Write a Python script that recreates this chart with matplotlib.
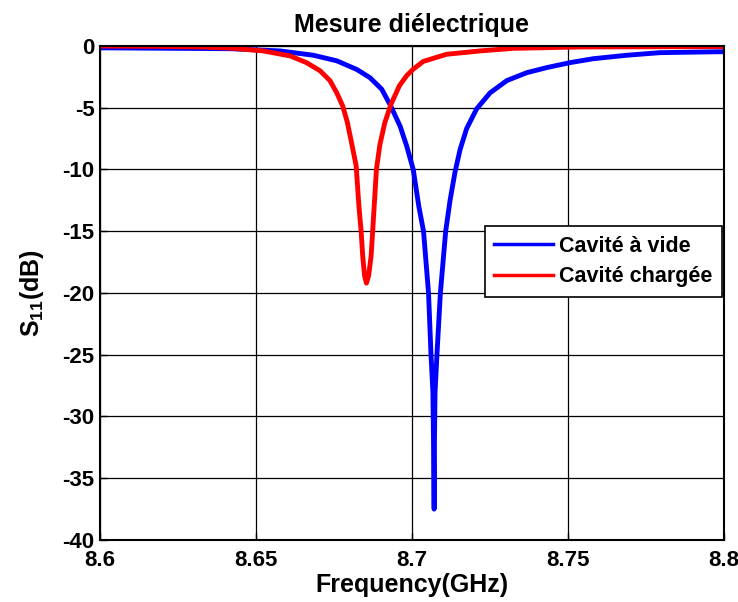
import matplotlib
matplotlib.use('Agg')
import matplotlib.pyplot as plt

# police type MATLAB (Arial gras)
plt.rcParams['font.family'] = ['Liberation Sans', 'DejaVu Sans']
plt.rcParams['font.weight'] = 'bold'
plt.rcParams['axes.unicode_minus'] = False
plt.rcParams['mathtext.fontset'] = 'custom'
plt.rcParams['mathtext.rm'] = 'Liberation Sans:bold'
plt.rcParams['mathtext.bf'] = 'Liberation Sans:bold'
plt.rcParams['mathtext.default'] = 'bf'

# cavité à vide (bleu)
freq_vide = [8.6000, 8.6192, 8.6417, 8.6577, 8.6684, 8.6759, 8.6823, 8.6865, 8.6903,
             8.6932, 8.6962, 8.6983, 8.7004, 8.7022, 8.7037, 8.7053, 8.7061, 8.7067,
             8.7069, 8.7071, 8.7072, 8.7074, 8.7080, 8.7091, 8.7108, 8.7122, 8.7138,
             8.7154, 8.7175, 8.7207, 8.7250, 8.7304, 8.7368, 8.7432, 8.7506, 8.7581,
             8.7688, 8.7795, 8.8000]
s11_vide = [-0.15, -0.18, -0.22, -0.40, -0.75, -1.2, -1.9, -2.56, -3.5,
            -4.86, -6.5, -8.1, -10.0, -13.0, -15.0, -20.0, -25.0, -28.0,
            -32.0, -37.5, -32.0, -28.0, -25.0, -20.0, -15.0, -12.5, -10.2,
            -8.4, -6.7, -5.1, -3.8, -2.8, -2.16, -1.75, -1.35, -1.03,
            -0.75, -0.54, -0.46]

# cavité chargée (rouge)
freq_charge = [8.6000, 8.6192, 8.6321, 8.6417, 8.6523, 8.6609, 8.6662, 8.6705, 8.6737,
               8.6759, 8.6778, 8.6793, 8.6806, 8.6821, 8.6830, 8.6837, 8.6842, 8.6848,
               8.6854, 8.6861, 8.6869, 8.6874, 8.6880, 8.6886, 8.6897, 8.6913, 8.6933,
               8.6960, 8.6983, 8.7003, 8.7036, 8.7111, 8.7218, 8.7325, 8.7538, 8.8000]
s11_charge = [0.0, -0.03, -0.08, -0.17, -0.4, -0.8, -1.35, -2.0, -2.8,
              -3.8, -4.86, -6.2, -7.8, -9.7, -13.0, -15.0, -17.0, -18.6,
              -19.2, -18.6, -17.0, -15.0, -12.5, -10.0, -8.0, -6.2, -4.7,
              -3.2, -2.4, -1.9, -1.25, -0.67, -0.4, -0.19, -0.08, -0.05]

xticks = [8.6, 8.65, 8.7, 8.75, 8.8]
xlabels = ['8.6', '8.65', '8.7', '8.75', '8.8']
yticks = [0, -5, -10, -15, -20, -25, -30, -35, -40]

fig = plt.figure(figsize=(7.38, 6.02), dpi=100)
ax = fig.add_axes([0.1355, 0.103, 0.8455, 0.8206])

ax.plot(freq_vide, s11_vide, color='#0000ff', lw=3.5, label='Cavité à vide',
        solid_joinstyle='round')
ax.plot(freq_charge, s11_charge, color='#ff0000', lw=3.5, label='Cavité chargée',
        solid_joinstyle='round')

ax.set_xlim(8.6, 8.8)
ax.set_ylim(-40, 0)
ax.set_xticks(xticks)
ax.set_xticklabels(xlabels)
ax.set_yticks(yticks)
ax.tick_params(direction='in', labelsize=16, length=5, width=1)
ax.tick_params(axis='x', pad=7)
ax.tick_params(axis='y', pad=4)
ax.grid(True, color='black', lw=0.9, ls='-')
for s in ax.spines.values():
    s.set_linewidth(1.5)

ax.set_title('Mesure diélectrique', fontsize=18, fontweight='bold', pad=10)
ax.set_xlabel('Frequency(GHz)', fontsize=18, fontweight='bold', labelpad=2)
ax.set_ylabel('S$_{11}$(dB)', fontsize=18, fontweight='bold', labelpad=12)

leg = ax.legend(loc='upper right', bbox_to_anchor=(0.997, 0.6356), fontsize=15.5,
                fancybox=False, framealpha=1, edgecolor='black', handlelength=2.7,
                handletextpad=0.3, borderpad=0.45, labelspacing=0.45, borderaxespad=0)
leg.get_frame().set_linewidth(1.2)
for ln in leg.get_lines():
    ln.set_linewidth(2.5)

plt.savefig('out.png', dpi=100)
